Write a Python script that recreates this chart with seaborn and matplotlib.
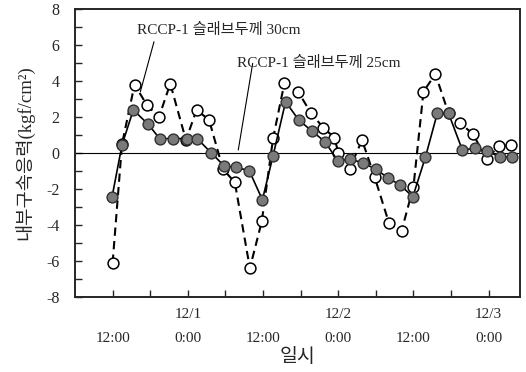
import matplotlib
matplotlib.use("Agg")
import matplotlib.pyplot as plt
import seaborn as sns
import pandas as pd

# ---- data (hours counted from 11/30 0:00) ----
hours_25 = [11.9, 13.5, 15.3, 17.7, 19.5, 21.6, 23.8, 25.5, 27.7, 29.8, 31.7, 33.8,
            35.9, 37.6, 39.6, 41.7, 43.8, 45.9, 47.9, 49.9, 51.9, 54.0, 56.0, 57.9,
            59.9, 61.9, 63.8, 65.6, 67.8, 69.8, 71.8, 73.8, 75.8]
stress_25 = [-2.46, 0.45, 2.39, 1.59, 0.8, 0.8, 0.8, 0.8, 0.02, -0.72, -0.8, -0.98,
             -2.6, -0.15, 2.85, 1.83, 1.22, 0.62, -0.42, -0.35, -0.54, -0.9, -1.4, -1.78,
             -2.43, -0.24, 2.2, 2.2, 0.17, 0.26, 0.13, -0.24, -0.2]

hours_30 = [12.0, 13.5, 15.5, 17.5, 19.4, 21.2, 23.7, 25.4, 27.4, 29.6, 31.5, 33.9,
            35.8, 37.6, 39.4, 41.6, 43.6, 45.6, 47.4, 48.0, 49.8, 51.8, 53.8, 56.1,
            58.1, 60.0, 61.6, 63.5, 65.6, 67.5, 69.5, 71.7, 73.6, 75.5]
stress_30 = [-6.1, 0.5, 3.8, 2.65, 2.0, 3.85, 0.72, 2.4, 1.83, -0.89, -1.63, -6.4,
             -3.8, 0.81, 3.87, 3.41, 2.24, 1.41, 0.85, 0.02, -0.88, 0.72, -1.33, -3.9,
             -4.33, -1.87, 3.41, 4.39, 2.2, 1.65, 1.05, -0.35, 0.39, 0.44]

xtick_hours = [12, 18, 24, 30, 36, 42, 48, 54, 60, 66, 72]
xtick_labels = ["\n12:00", "", "12/1\n0:00", "", "\n12:00", "", "12/2\n0:00", "",
                "\n12:00", "", "12/3\n0:00"]
ytick_values = [-8, -6, -4, -2, 0, 2, 4, 6, 8]

label_30 = "RCCP-1 슬래브두께 30cm"
label_25 = "RCCP-1 슬래브두께 25cm"
xlabel = "일시"
ylabel = "내부구속응력(kgf/cm²)"

# ---- style ----
sns.set_style("ticks")
plt.rcParams["font.family"] = ["Liberation Serif", "Noto Sans CJK KR", "DejaVu Sans"]
plt.rcParams["xtick.direction"] = "in"
plt.rcParams["ytick.direction"] = "in"

fig = plt.figure(figsize=(5.26, 3.72), dpi=100)
ax = fig.add_axes([0.1426, 0.2016, 0.8460, 0.7742])

df25 = pd.DataFrame({"h": hours_25, "v": stress_25})
df30 = pd.DataFrame({"h": hours_30, "v": stress_30})

ax.axhline(0, color="black", lw=0.8, zorder=1)

sns.lineplot(data=df30, x="h", y="v", ax=ax, sort=False, estimator=None, errorbar=None,
             color="black", linestyle=(0, (4, 2.5)), lw=1.5, marker="o", markersize=7.8,
             markerfacecolor="white", markeredgecolor="black", markeredgewidth=1.1, zorder=3)
sns.lineplot(data=df25, x="h", y="v", ax=ax, sort=False, estimator=None, errorbar=None,
             color="black", linestyle="-", lw=1.2, marker="o", markersize=7.8,
             markerfacecolor="#7a7a7a", markeredgecolor="#303030", markeredgewidth=1.0, zorder=4)

ax.set_xlim(6, 77)
ax.set_ylim(-8, 8)
ax.set_xticks(xtick_hours)
ax.set_xticklabels(xtick_labels)
for lbl in ax.get_xticklabels():
    lbl.set_linespacing(2.1)
ax.set_yticks(ytick_values)
ax.set_yticklabels([str(v) for v in ytick_values])
ax.set_yticks(range(-7, 8, 2), minor=True)
ax.tick_params(axis="x", length=5, width=1.0, pad=8, labelsize=11)
ax.tick_params(axis="y", which="major", length=5, width=1.0, pad=11, labelsize=11.5)
ax.tick_params(axis="y", which="minor", length=5, width=1.0)
for s in ax.spines.values():
    s.set_linewidth(1.4)
    s.set_visible(True)

ax.set_xlabel(xlabel, fontsize=14, labelpad=2)
ax.set_ylabel(ylabel, fontsize=13.5, labelpad=8)

# annotations
ax.text(15.84, 6.83, label_30, fontsize=11, va="center", ha="left")
ax.text(31.84, 5.0, label_25, fontsize=11, va="center", ha="left")
ax.plot([18.6, 16.43], [6.18, 3.41], color="black", lw=0.8)
ax.plot([34.35, 32.05], [4.98, 0.17], color="black", lw=0.8)

fig.savefig("out.png", dpi=100)
